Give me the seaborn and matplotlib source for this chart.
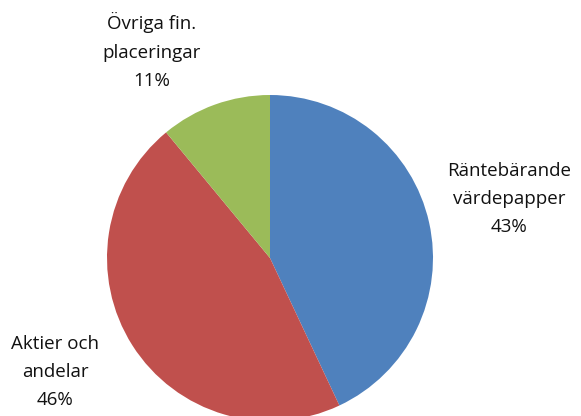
import matplotlib
matplotlib.use("Agg")
import matplotlib.pyplot as plt
import seaborn as sns

# data
kategorier = ["Räntebärande\nvärdepapper", "Aktier och\nandelar", "Övriga fin.\nplaceringar"]
andelar = [43, 46, 11]
farger = ["#4F81BD", "#C0504D", "#9BBB59"]

sns.set_theme(style="white")
plt.rcParams["font.family"] = ["Open Sans", "DejaVu Sans"]

fig = plt.figure(figsize=(5.81, 4.16), dpi=100)
# pie placed in pixels: centre (270, 258), radius 163
ax = fig.add_axes([107 / 581, (158 - 163) / 416, 326 / 581, 326 / 416])
ax.pie(andelar, colors=farger, startangle=90, counterclock=False,
       wedgeprops=dict(linewidth=0), radius=1)
ax.set_xlim(-1, 1)
ax.set_ylim(-1, 1)
ax.set_aspect("equal")
ax.axis("off")

# label centres in figure pixels (x, y from top)
etikett_pos = [(509, 199), (55, 372), (152, 51)]
for namn, v, (px, py) in zip(kategorier, andelar, etikett_pos):
    fig.text(px / 581, 1 - py / 416, f"{namn}\n{v}%", ha="center", va="center",
             fontsize=13.5, linespacing=1.72, color="#111111")

fig.savefig("out.png", dpi=100)
